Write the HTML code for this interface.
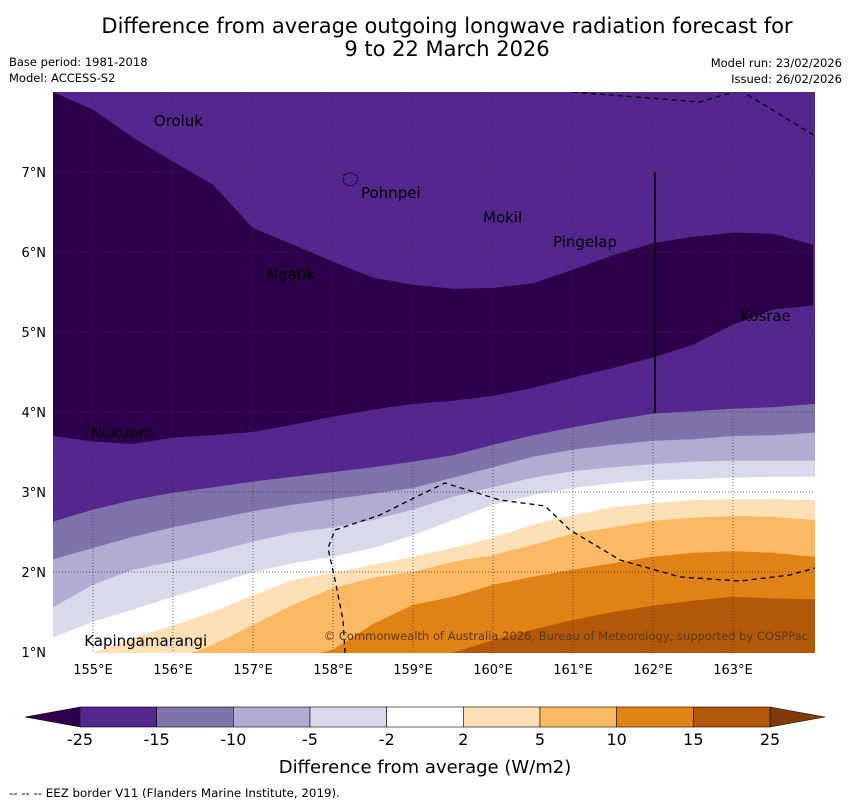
<!DOCTYPE html>
<html><head><meta charset="utf-8">
<style>
body{margin:0;background:#fff;width:850px;height:804px;overflow:hidden;font-family:"DejaVu Sans","Liberation Sans",sans-serif;}
svg text{font-family:"DejaVu Sans","Liberation Sans",sans-serif;}
</style></head><body>
<svg id="chart" width="850" height="804">
<text x="447" y="33" font-size="21" text-anchor="middle">Difference from average outgoing longwave radiation forecast for</text>
<text x="447" y="56" font-size="21" text-anchor="middle">9 to 22 March 2026</text>
<text x="9" y="66" font-size="11.5">Base period: 1981-2018</text>
<text x="9" y="82" font-size="11.5">Model: ACCESS-S2</text>
<text x="842" y="67" font-size="11.5" text-anchor="end">Model run: 23/02/2026</text>
<text x="842" y="83" font-size="11.5" text-anchor="end">Issued: 26/02/2026</text>
<defs><clipPath id="clip"><rect x="53" y="92" width="762" height="561"/></clipPath></defs>
<g id="plot" clip-path="url(#clip)"></g>
<g id="over"></g>
<g id="cbar"></g>
<text x="425" y="773" font-size="18" text-anchor="middle">Difference from average (W/m2)</text>
<text x="9" y="797" font-size="11.8">-- -- -- EEZ border V11 (Flanders Marine Institute, 2019).</text>
</svg>
<script>
const lons=[154.5,155,155.5,156,156.5,157,157.5,158,158.5,159,159.5,160,160.5,161,161.5,162,162.5,163,163.5,164];
const b1=[8.0,7.78,7.43,7.13,6.84,6.3,6.09,5.88,5.68,5.59,5.54,5.55,5.61,5.78,5.96,6.11,6.19,6.24,6.23,6.09];
const b2=[3.7,3.63,3.6,3.68,3.71,3.75,3.84,3.94,4.03,4.1,4.14,4.2,4.3,4.43,4.55,4.68,4.84,5.09,5.28,5.33];
const b3=[2.63,2.78,2.9,2.99,3.06,3.13,3.19,3.25,3.31,3.38,3.46,3.59,3.71,3.81,3.9,3.98,4.01,4.04,4.06,4.1];
const b4=[2.16,2.3,2.44,2.56,2.66,2.76,2.84,2.91,2.98,3.05,3.18,3.31,3.44,3.53,3.59,3.64,3.66,3.7,3.71,3.74];
const b5=[1.56,1.84,2.03,2.13,2.25,2.38,2.49,2.56,2.65,2.78,2.94,3.06,3.18,3.26,3.31,3.35,3.38,3.39,3.39,3.39];
const b6=[1.18,1.38,1.53,1.69,1.84,2.0,2.11,2.19,2.3,2.46,2.65,2.84,2.96,3.05,3.11,3.15,3.16,3.18,3.19,3.19];
const b7=[0.84,0.99,1.18,1.33,1.5,1.71,1.9,1.99,2.09,2.19,2.3,2.43,2.59,2.71,2.81,2.86,2.9,2.91,2.91,2.9];
const b8=[0.4,0.53,0.71,0.9,1.09,1.34,1.59,1.8,1.93,2.0,2.13,2.21,2.34,2.48,2.56,2.64,2.68,2.7,2.69,2.65];
const b9=[0.15,0.28,0.4,0.53,0.65,0.78,0.9,1.03,1.35,1.59,1.69,1.84,1.94,2.03,2.11,2.19,2.24,2.26,2.24,2.19];
const b10=[0,0,0,0,0,0,0,0,0.5,0.8,0.99,1.15,1.28,1.4,1.5,1.58,1.64,1.69,1.67,1.66];
const levels=["-25","-15","-10","-5","-2","2","5","10","15","25"];
const colors=["#54278f","#8073ac","#b2abd2","#d8daeb","#ffffff","#fee0b6","#fdb863","#e08214","#b35806"];
const darkColor="#2d004b";
const islands=[["Oroluk",155.76,7.64],["Pohnpei",158.35,6.74],["Mokil",159.875,6.43],["Pingelap",160.75,6.125],["Ngatik",157.17,5.72],["Kosrae",163.09,5.2],["Nukuoro",154.97,3.74],["Kapingamarangi",154.89,1.14]];
const lonTicks=[155,156,157,158,159,160,161,162,163];
const latTicks=[1,2,3,4,5,6,7];
const X=l=>53+(l-154.5)*80, Y=l=>92+(8-l)*80;
const NS="http://www.w3.org/2000/svg";
function mk(tag,attrs,parent){const e=document.createElementNS(NS,tag);for(const k in attrs)e.setAttribute(k,attrs[k]);parent.appendChild(e);return e;}
const plot=document.getElementById('plot'),over=document.getElementById('over'),cb=document.getElementById('cbar');
function line(b){return lons.map((l,i)=>X(l)+','+Y(b[i])).join(' ');}
let bg=mk('rect',{x:53,y:92,width:762,height:561,fill:colors[0]},plot);


let dk=mk('polygon',{points:line(b1)+' '+lons.slice().reverse().map((l,i)=>X(l)+','+Y(b2[lons.length-1-i])).join(' '),fill:darkColor},plot);


const bnds=[b2,b3,b4,b5,b6,b7,b8,b9,b10];
bnds.forEach((b,k)=>{
 const p=mk('polygon',{points:(X(lons[0])-5)+','+Y(-1)+' '+(X(lons[0])-5)+','+Y(b[0])+' '+line(b)+' '+(X(lons[lons.length-1])+5)+','+Y(b[b.length-1])+' '+(X(lons[lons.length-1])+5)+','+Y(-1),fill:colors[k]},plot);
 
 
});
lonTicks.forEach(l=>{const g=mk('line',{x1:X(l),x2:X(l),y1:92,y2:653,stroke:'#333','stroke-width':0.7,'stroke-dasharray':'1,2'},plot);
 
 
 const t=mk('text',{x:X(l),y:674,'font-size':13,'text-anchor':'middle'},over);t.textContent=l+'°E';
 
 });
latTicks.forEach(l=>{if(l>1){const g=mk('line',{x1:53,x2:815,y1:Y(l),y2:Y(l),stroke:'#333','stroke-width':0.7,'stroke-dasharray':'1,2'},plot);
 
 }
 const t=mk('text',{x:46,y:Y(l)+5,'font-size':13,'text-anchor':'end'},over);t.textContent=l+'°N';
 
 });
const eez=["573,92 700,102 740,90","740,90 815,136","345,653 343,620 335,580 328,548 335,530 380,515 420,495 445,483 500,500 545,506 570,530 620,560 680,577 740,581 790,575 815,568"];
eez.forEach(p=>{const e=mk('polyline',{points:p,fill:'none',stroke:'#000','stroke-width':1.3,'stroke-dasharray':'5,4'},plot);
 
 });
const vl=mk('line',{x1:655,x2:655,y1:172,y2:413,stroke:'#000','stroke-width':1.5},plot);


const pn=mk('path',{d:'M344,175 q6,-4 12,0 q4,5 -2,10 q-7,2 -11,-3 z',fill:'none',stroke:'#000','stroke-dasharray':'2,1'},plot);


islands.forEach(d=>{const t=mk('text',{x:X(d[1]),y:Y(d[2])+5,'font-size':15},plot);t.textContent=d[0];
 
 });
const cp=mk('text',{x:808,y:640,'font-size':11.5,'text-anchor':'end',fill:'#5a3a1a'},plot);
cp.textContent='© Commonwealth of Australia 2026, Bureau of Meteorology, supported by COSPPac';


const cx0=80,cw=(770-80)/9;
let la=mk('polygon',{points:`25,717 ${cx0},707 ${cx0},727`,fill:darkColor,stroke:'#000','stroke-width':0.5},cb);


let ra=mk('polygon',{points:`825,717 770,707 770,727`,fill:'#7f3b08',stroke:'#000','stroke-width':0.5},cb);


colors.forEach((c,i)=>{const r=mk('rect',{x:cx0+i*cw,y:707,width:cw,height:20,fill:c,stroke:'#000','stroke-width':0.6},cb);
 
 });
levels.forEach((l,i)=>{const t=mk('text',{x:cx0+i*cw,y:745,'font-size':16,'text-anchor':'middle'},cb);t.textContent=l;
 
 });
</script>
</body></html>
